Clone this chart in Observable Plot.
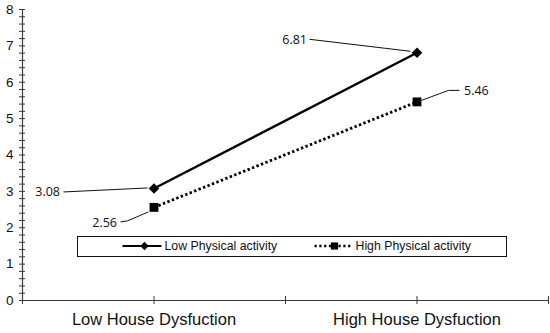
<!DOCTYPE html>
<html><head><meta charset="utf-8">
<script src="https://cdn.jsdelivr.net/npm/d3@7"></script>
<script src="https://cdn.jsdelivr.net/npm/@observablehq/plot@0.6"></script>
<style>
body{margin:0;background:#fff;}
#wrap{position:relative;width:550px;height:333px;font-family:"Liberation Sans",Arial,sans-serif;}
#legend{position:absolute;left:77px;top:236px;width:430px;height:21px;box-sizing:border-box;border:1.5px solid #111;background:#fff;}
#legend svg{display:block;}
</style></head><body>
<div id="wrap"><div id="legend"></div></div>
<script>
// ---- data ----
const categories = ["Low House Dysfuction", "High House Dysfuction"];
const seriesNames = ["Low Physical activity", "High Physical activity"];
const lowPA = [3.08, 6.81];
const highPA = [2.56, 5.46];
const yTickLabels = [0, 1, 2, 3, 4, 5, 6, 7, 8];
const yMinorStep = 0.2;

// ---- label layout (pixel offsets from each point) ----
const labelLayout = {
  "Low Physical activity": [
    {dx: -94, dy: 4, anchor: "end", leader: [[-90, 4], [-6, 0]]},
    {dx: -110, dy: -13, anchor: "end", leader: [[-107, -13], [-6, -1]]}
  ],
  "High Physical activity": [
    {dx: -37, dy: 16, anchor: "end", leader: [[-33, 15], [-26, 14], [-5, 5]]},
    {dx: 47, dy: -11, anchor: "start", leader: [[43, -11], [32, -11], [5, -1]]}
  ]
};

const rows = [];
[lowPA, highPA].forEach((vals, s) => vals.forEach((v, i) => rows.push({
  series: seriesNames[s], cat: categories[i], pos: i + 0.5, value: v, idx: i
})));
const lowRows = rows.filter(d => d.series === seriesNames[0]);
const highRows = rows.filter(d => d.series === seriesNames[1]);

const yTicks = d3.range(0, 8 + 1e-9, yMinorStep).map(v => +v.toFixed(2));
const xTicks = d3.range(0, categories.length + 1e-9, 0.5);
const axisColor = "#3a3a3a";

const textMarks = rows.map(d => {
  const L = labelLayout[d.series][d.idx];
  return Plot.text([d], {x: "pos", y: "value", text: d => d.value.toFixed(2),
    dx: L.dx, dy: L.dy, textAnchor: L.anchor, fontSize: 12.5, fill: "#111",
    fontFamily: "'Open Sans', sans-serif"});
});

const plot = Plot.plot({
  width: 550, height: 333,
  marginLeft: 22, marginRight: 2, marginTop: 9, marginBottom: 33,
  style: {fontFamily: "'Liberation Sans', Arial, sans-serif", background: "#fff", color: "#111"},
  x: {domain: [0, categories.length]},
  y: {domain: [0, 8]},
  marks: [
    Plot.axisY(yTickLabels, {tickSize: 0, tickPadding: 9, fontSize: 13.5, label: null}),
    Plot.axisX([0.5, 1.5], {tickSize: 0, tickPadding: 13, fontSize: 16.5, label: null,
      tickFormat: v => categories[Math.floor(v)]}),
    Plot.ruleY(yTicks, {y: d => d, x1: 0, x2: 0, insetLeft: -3, insetRight: -3, stroke: axisColor, strokeWidth: 1}),
    Plot.ruleX(xTicks, {x: d => d, y1: 0, y2: 0, insetTop: -4, insetBottom: -4, stroke: axisColor, strokeWidth: 1}),
    Plot.ruleX([0], {stroke: axisColor, strokeWidth: 1.2}),
    Plot.ruleY([0], {stroke: axisColor, strokeWidth: 1.2}),
    Plot.line(lowRows, {x: "pos", y: "value", stroke: "#000", strokeWidth: 2.4}),
    Plot.line(highRows, {x: "pos", y: "value", stroke: "#000", strokeWidth: 2.8,
      strokeDasharray: "2.4,2.4", strokeLinecap: "butt"}),
    Plot.dot(lowRows, {x: "pos", y: "value", symbol: "diamond2", fill: "#000", stroke: "none", r: 4.8}),
    Plot.dot(highRows, {x: "pos", y: "value", symbol: "square", fill: "#000", stroke: "none", r: 5}),
    ...textMarks
  ]
});

// leader lines through the plot's own scales
const sx = plot.scale("x"), sy = plot.scale("y");
const svg = d3.select(plot);
rows.forEach(d => {
  const L = labelLayout[d.series][d.idx];
  const px = sx.apply(d.pos), py = sy.apply(d.value);
  svg.append("polyline")
    .attr("points", L.leader.map(([ox, oy]) => `${px + ox},${py + oy}`).join(" "))
    .attr("fill", "none").attr("stroke", "#111").attr("stroke-width", 1);
});

const wrap = document.getElementById("wrap");
wrap.insertBefore(plot, wrap.firstChild);
plot.style.position = "absolute"; plot.style.left = "0"; plot.style.top = "0";

// legend
const lg = d3.select("#legend").append("svg").attr("width", 427).attr("height", 18);
const items = [
  {name: seriesNames[0], x0: 44.5, x1: 83.5, mx: 66.5, dash: null, sym: "diamond"},
  {name: seriesNames[1], x0: 236.5, x1: 274.5, mx: 256.5, dash: "2.2,2.6", sym: "square"}
];
items.forEach(it => {
  lg.append("line").attr("x1", it.x0).attr("x2", it.x1).attr("y1", 9).attr("y2", 9)
    .attr("stroke", "#000").attr("stroke-width", it.dash ? 2.6 : 2.2)
    .attr("stroke-dasharray", it.dash).attr("stroke-linecap", "butt");
  if (it.sym === "diamond")
    lg.append("path").attr("d", `M${it.mx},${9-4.2}L${it.mx+4.2},9L${it.mx},${9+4.2}L${it.mx-4.2},9Z`).attr("fill", "#000");
  else
    lg.append("rect").attr("x", it.mx - 3.6).attr("y", 9 - 3.6).attr("width", 7.2).attr("height", 7.2).attr("fill", "#000");
  lg.append("text").attr("x", it.x1 + 3).attr("y", 9).attr("dy", "0.35em")
    .attr("font-size", 12.3).attr("fill", "#111").text(it.name);
});
</script>
</body></html>
